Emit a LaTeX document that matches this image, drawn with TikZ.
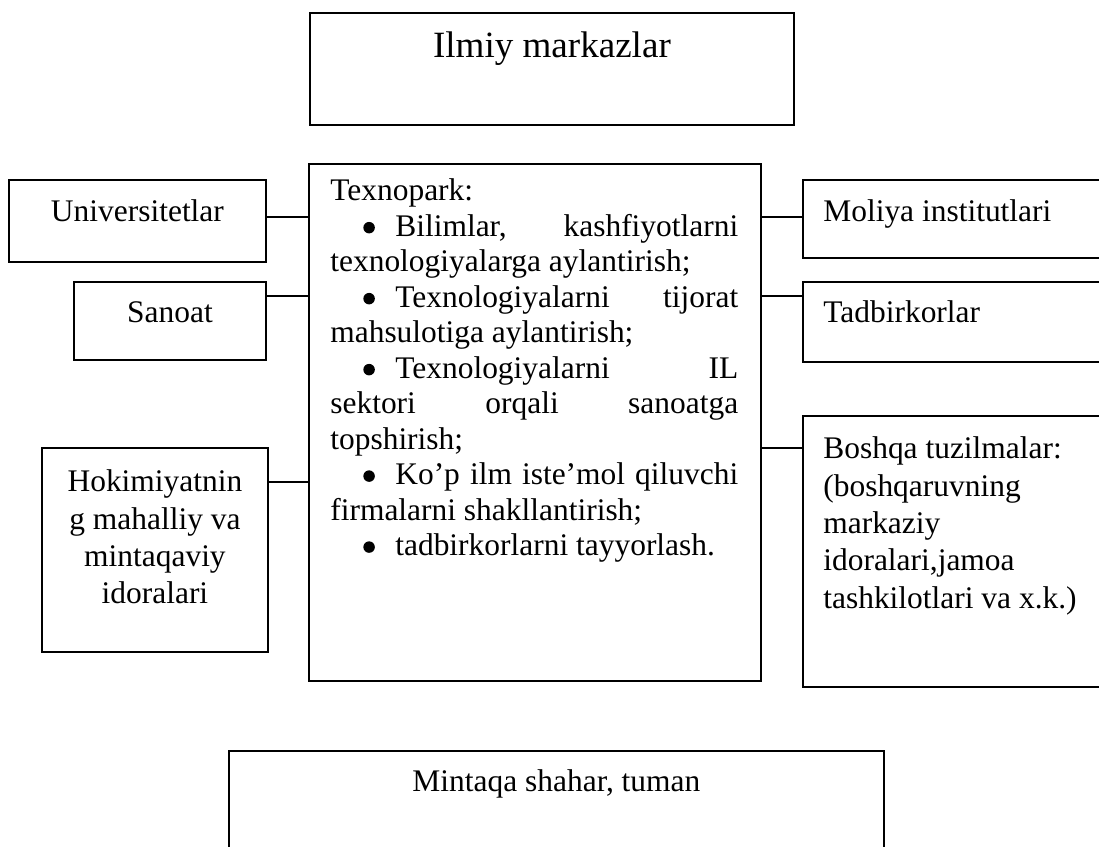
\documentclass[tikz,border=0pt]{standalone}
\usepackage{fontspec}
\setmainfont{Liberation Serif}
\newcommand{\bigdot}{\tikz[baseline=0pt]\fill (0.11cm,0.17cm) circle (0.115cm);}
\begin{document}
\begin{tikzpicture}[x=0.02cm,y=-0.02cm,
    box/.style={draw,line width=1.1pt,inner sep=0pt,anchor=north west},
    txt/.style={inner sep=0pt,font=\fontsize{17.9pt}{20.9pt}\selectfont},
    link/.style={line width=1.1pt}]
  \useasboundingbox (0,0) rectangle (1099,846);
  \clip (0,0) rectangle (1099,846);
  \node[box,minimum width=9.68cm,minimum height=2.24cm] (ilmiy) at (309,12) {};
  \node[box,minimum width=5.14cm,minimum height=1.64cm] (univ) at (8,179) {};
  \node[box,minimum width=3.84cm,minimum height=1.56cm] (sanoat) at (73,281) {};
  \node[box,minimum width=4.52cm,minimum height=4.08cm] (hokim) at (41,447) {};
  \node[box,minimum width=9.04cm,minimum height=10.34cm] (texno) at (308,163) {};
  \node[box,minimum width=7cm,minimum height=1.56cm] (moliya) at (802,179) {};
  \node[box,minimum width=7cm,minimum height=1.6cm] (tadbir) at (802,281) {};
  \node[box,minimum width=7cm,minimum height=5.42cm] (boshqa) at (802,415) {};
  \node[box,minimum width=13.1cm,minimum height=3cm] (mintaqa) at (228,750) {};
  \node[txt,anchor=base,font=\fontsize{21.1pt}{24pt}\selectfont] (ilmiytxt) at ([yshift=-0.92cm]ilmiy.north) {Ilmiy markazlar};
  \node[txt,anchor=base] (univtxt) at ([yshift=-0.86cm]univ.north) {Universitetlar};
  \node[txt,anchor=base] (sanoattxt) at ([yshift=-0.82cm]sanoat.north) {Sanoat};
  \node[txt,anchor=north,align=center,font=\fontsize{17.9pt}{21.3pt}\selectfont] (hokimtxt) at ([yshift=-0.45cm]hokim.north)
    {Hokimiyatnin\\g mahalliy va\\mintaqaviy\\idoralari};
  \node[txt,anchor=north west,text width=8.16cm,align=justify,font=\fontsize{17.9pt}{20.2pt}\selectfont] (texnotxt) at ([xshift=0.44cm,yshift=-0.31cm]texno.north west)
    {\parindent=0pt\parskip=0pt\tolerance=10000\hbadness=10000
    Texnopark:\par
    \hspace*{0.66cm}\makebox[0.64cm][l]{\bigdot}Bilimlar, kashfiyotlarni\linebreak texnologiyalarga aylantirish;\par
    \hspace*{0.66cm}\makebox[0.64cm][l]{\bigdot}Texnologiyalarni tijorat\linebreak mahsulotiga aylantirish;\par
    \hspace*{0.66cm}\makebox[0.64cm][l]{\bigdot}Texnologiyalarni IL\linebreak sektori orqali sanoatga\linebreak topshirish;\par
    \hspace*{0.66cm}\makebox[0.64cm][l]{\bigdot}Ko’p ilm iste’mol qiluvchi\linebreak firmalarni shakllantirish;\par
    \hspace*{0.66cm}\makebox[0.64cm][l]{\bigdot}tadbirkorlarni tayyorlash.\par};
  \node[txt,anchor=base west] (moliyatxt) at ([xshift=0.42cm,yshift=-0.86cm]moliya.north west) {Moliya institutlari};
  \node[txt,anchor=base west] (tadbirtxt) at ([xshift=0.42cm,yshift=-0.82cm]tadbir.north west) {Tadbirkorlar};
  \node[txt,anchor=north west,align=left,font=\fontsize{17.9pt}{21.3pt}\selectfont] (boshqatxt) at ([xshift=0.42cm,yshift=-0.43cm]boshqa.north west)
    {Boshqa tuzilmalar:\\(boshqaruvning\\markaziy\\idoralari,jamoa\\tashkilotlari va x.k.)};
  \node[txt,anchor=base] (mintaqatxt) at ([yshift=-0.82cm]mintaqa.north) {Mintaqa shahar, tuman};
  \foreach \n/\d in {univ/0.76,sanoat/0.3,hokim/0.7}
    \draw[link] ([yshift=-\d cm]\n.north east) coordinate (c) -- (c -| texno.west);
  \foreach \n/\d in {moliya/0.76,tadbir/0.3,boshqa/0.66}
    \draw[link] ([yshift=-\d cm]\n.north west) coordinate (c) -- (c -| texno.east);
\end{tikzpicture}
\end{document}
